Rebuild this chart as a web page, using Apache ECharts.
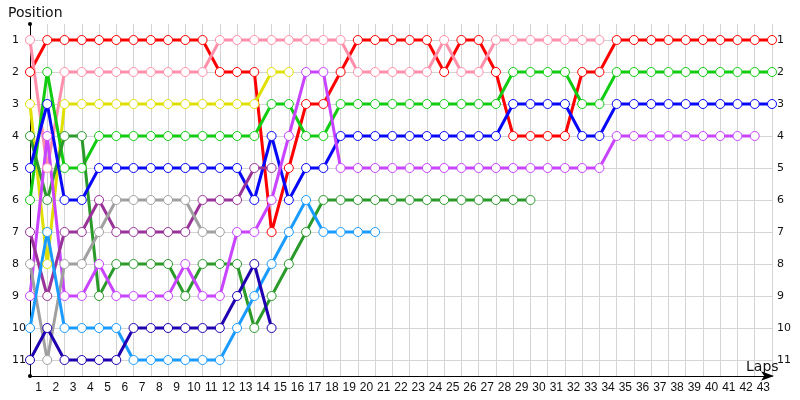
<!DOCTYPE html>
<html>
<head>
<meta charset="utf-8">
<script src="https://cdn.jsdelivr.net/npm/echarts@6/dist/echarts.min.js"></script>
<style>html,body{margin:0;padding:0;background:#fff;}#c{width:800px;height:400px;}</style>
</head>
<body>
<div id="c"></div>
<script>
// Lap labels (x axis) and position labels (y axis)
const lapLabels = ['1','2','3','4','5','6','7','8','9','10','11','12','13','14','15','16','17','18','19','20','21','22','23','24','25','26','27','28','29','30','31','32','33','34','35','36','37','38','39','40','41','42','43'];
const positionTicks = [1,2,3,4,5,6,7,8,9,10,11];

// Position per lap, starting at lap 0 (grid)
const red        = [2,1,1,1,1,1,1,1,1,1,1,2,2,2,7,5,3,3,2,1,1,1,1,1,2,1,1,2,4,4,4,4,2,2,1,1,1,1,1,1,1,1,1,1];
const pink       = [1,5,2,2,2,2,2,2,2,2,2,1,1,1,1,1,1,1,1,2,2,2,2,2,1,2,2,1,1,1,1,1,1,1];
const yellow     = [3,8,3,3,3,3,3,3,3,3,3,3,3,3,2,2];
const green      = [6,2,5,5,4,4,4,4,4,4,4,4,4,4,3,3,4,4,3,3,3,3,3,3,3,3,3,3,2,2,2,2,3,3,2,2,2,2,2,2,2,2,2,2];
const darkGreen  = [4,6,4,4,9,8,8,8,8,9,8,8,8,10,9,8,7,6,6,6,6,6,6,6,6,6,6,6,6,6];
const blue       = [5,3,6,6,5,5,5,5,5,5,5,5,5,6,4,6,5,5,4,4,4,4,4,4,4,4,4,4,3,3,3,3,4,4,3,3,3,3,3,3,3,3,3,3];
const magenta    = [9,4,9,9,8,9,9,9,9,8,9,9,7,7,6,4,2,2,5,5,5,5,5,5,5,5,5,5,5,5,5,5,5,5,4,4,4,4,4,4,4,4,4];
const darkPurple = [7,9,7,7,6,7,7,7,7,7,6,6,6,5,5];
const gray       = [8,11,8,8,7,6,6,6,6,6,7,7];
const lightBlue  = [10,7,10,10,10,10,11,11,11,11,11,11,10,9,8,7,6,7,7,7,7];
const navy       = [11,10,11,11,11,11,10,10,10,10,10,10,9,8,10];

const seriesDefs = [
  {name:'red', data:red, color:'#ff0000'},
  {name:'pink', data:pink, color:'#ff8fab'},
  {name:'yellow', data:yellow, color:'#e0e000'},
  {name:'green', data:green, color:'#11cc11'},
  {name:'darkGreen', data:darkGreen, color:'#2a9a2a'},
  {name:'blue', data:blue, color:'#0808f8'},
  {name:'magenta', data:magenta, color:'#c844ff'},
  {name:'darkPurple', data:darkPurple, color:'#993399'},
  {name:'gray', data:gray, color:'#a0a0a0'},
  {name:'lightBlue', data:lightBlue, color:'#1a9bff'},
  {name:'navy', data:navy, color:'#2000b0'}
];

const gridColor = '#d4d4d4';
const fontFam = 'DejaVu Sans';

const chart = echarts.init(document.getElementById('c'), null, {renderer:'canvas'});
chart.setOption({
  animation: false,
  backgroundColor: '#ffffff',
  title: [
    {text:'Position', left:3, top:1, textStyle:{fontFamily:fontFam, fontSize:14, fontWeight:'normal', color:'#111'}},
    {text:'Laps', left:741, top:355, textStyle:{fontFamily:fontFam, fontSize:14, fontWeight:'normal', color:'#111'}}
  ],
  grid: [
    {left:30, right:28, top:24, bottom:24},
    {left:30, right:28, top:40, bottom:40}
  ],
  xAxis: [
    {type:'value', gridIndex:0, min:0, max:43, interval:1,
     axisLine:{show:true, lineStyle:{color:'#000', width:1}, symbol:['none','arrow'], symbolSize:[7,13], symbolOffset:[0,2]},
     axisTick:{show:false}, axisLabel:{show:false},
     splitLine:{show:true, lineStyle:{color:gridColor, width:1}}},
    {type:'category', gridIndex:0, position:'bottom', data:lapLabels, boundaryGap:true,
     axisLine:{show:false}, axisTick:{show:false},
     axisLabel:{interval:0, margin:6, fontFamily:'Liberation Sans', fontSize:12, color:'#111'},
     splitLine:{show:false}},
    {type:'value', gridIndex:1, min:0, max:43, interval:1, show:false}
  ],
  yAxis: [
    {type:'value', gridIndex:0, min:0.5, max:11.5, inverse:true,
     axisLine:{show:true, lineStyle:{color:'#000', width:1}, symbol:['circle','circle'], symbolSize:[4,4]},
     axisTick:{show:false}, axisLabel:{show:false}, splitLine:{show:false}},
    {type:'value', gridIndex:1, position:'left', min:1, max:11, interval:1, inverse:true,
     axisLine:{show:false}, axisTick:{show:false},
     axisLabel:{align:'left', margin:18, fontFamily:fontFam, fontSize:11, color:'#111',
       formatter: v => positionTicks.includes(v) ? String(v) : ''},
     splitLine:{show:true, lineStyle:{color:gridColor, width:1}}},
    {type:'value', gridIndex:1, position:'right', min:1, max:11, interval:1, inverse:true,
     axisLine:{show:false}, axisTick:{show:false},
     axisLabel:{margin:5, fontFamily:fontFam, fontSize:11, color:'#111',
       formatter: v => positionTicks.includes(v) ? String(v) : ''},
     splitLine:{show:false}}
  ],
  series: seriesDefs.map(s => ({
    name: s.name,
    type: 'line',
    xAxisIndex: 2,
    yAxisIndex: 1,
    clip: false,
    data: s.data.map((p, lap) => [lap, p]),
    symbol: 'circle',
    symbolSize: 9,
    showAllSymbol: true,
    lineStyle: {color: s.color, width: 3},
    itemStyle: {color: '#ffffff', borderColor: s.color, borderWidth: 1},
    emphasis: {disabled: true}
  }))
});
</script>
</body>
</html>
